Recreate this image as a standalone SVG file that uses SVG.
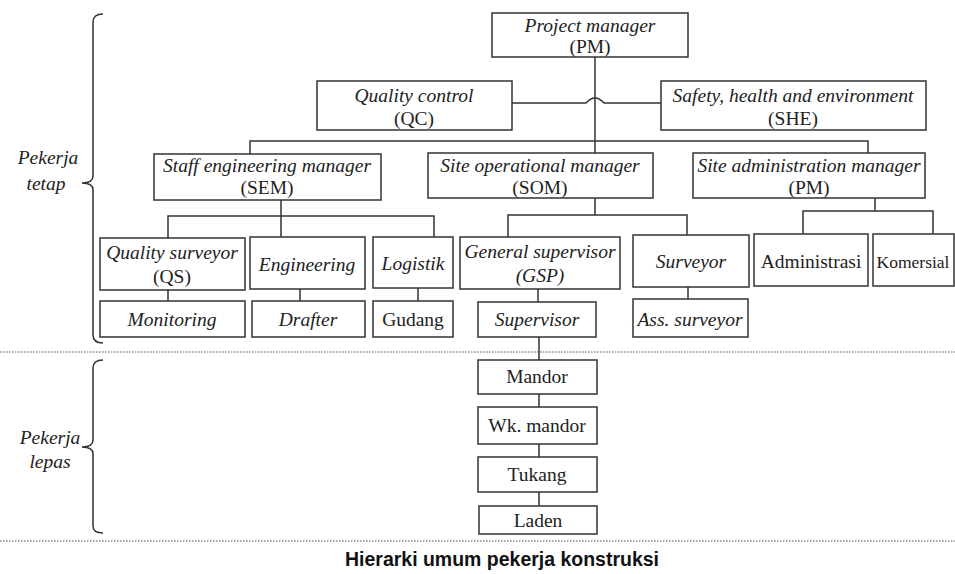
<svg xmlns="http://www.w3.org/2000/svg" width="955" height="574" viewBox="0 0 955 574">
<style>
.b{fill:#fff;stroke:#333;stroke-width:1.5}
.c{fill:none;stroke:#333;stroke-width:1.5}
.t{font-family:"Liberation Serif","Times New Roman",serif;font-size:19.5px;fill:#222;text-anchor:middle}
.i{font-style:italic}
.d{fill:none;stroke:#888;stroke-width:1.5;stroke-dasharray:1.5 1.5}
.cap{font-family:"Liberation Sans",Arial,sans-serif;font-size:20px;font-weight:bold;fill:#111;text-anchor:middle}
</style>
<rect width="955" height="574" fill="#fff"/>
<g id="connectors">
<path class="c" d="M595,57 V153"/>
<path class="c" d="M512,103 H586 Q595,93 604,103 H661"/>
<path class="c" d="M250,154 V141 H868 V153"/>
<path class="c" d="M281,200 V237 M168,238 V216 H434 V237"/>
<path class="c" d="M595,198 V215 M508,237 V215 H687 V235"/>
<path class="c" d="M875,198 V211 M803,234 V211 H933 V234"/>
<path class="c" d="M168,290 V301 M300,289 V301 M418,288 V301 M538,289 V302 M688,287 V299"/>
<path class="c" d="M539,337 V360 M539,394 V407 M539,444 V457 M539,492 V506"/>
</g>
<g id="braces">
<path class="c" d="M103,14 Q93,14 93,22 V176 Q93,183 82,183 Q93,183 93,190 V335 Q93,343 103,343"/>
<path class="c" d="M103,360 Q93,360 93,368 V440 Q93,447 82,447 Q93,447 93,454 V526 Q93,533 103,533"/>
<text class="t i" x="48" y="164">Pekerja</text>
<text class="t i" x="46" y="190">tetap</text>
<text class="t i" x="50" y="444">Pekerja</text>
<text class="t i" x="50" y="468">lepas</text>
</g>
<line class="d" x1="0" y1="352" x2="955" y2="352"/>
<line class="d" x1="0" y1="541" x2="955" y2="541"/>
<g id="pm"><rect class="b" x="492" y="13" width="196" height="44"/><text class="t i" x="590" y="32">Project manager</text><text class="t" x="590" y="53">(PM)</text></g>
<g id="qc"><rect class="b" x="317" y="81" width="195" height="49"/><text class="t i" x="414" y="102">Quality control</text><text class="t" x="414" y="125">(QC)</text></g>
<g id="she"><rect class="b" x="661" y="81" width="265" height="49"/><text class="t i" x="793" y="102">Safety, health and environment</text><text class="t" x="793" y="125">(SHE)</text></g>
<g id="sem"><rect class="b" x="154" y="154" width="227" height="46"/><text class="t i" x="267" y="172">Staff engineering manager</text><text class="t" x="267" y="194">(SEM)</text></g>
<g id="som"><rect class="b" x="428" y="153" width="225" height="45"/><text class="t i" x="540" y="172">Site operational manager</text><text class="t" x="540" y="194">(SOM)</text></g>
<g id="sam"><rect class="b" x="693" y="153" width="232" height="45"/><text class="t i" x="809" y="172">Site administration manager</text><text class="t" x="809" y="194">(PM)</text></g>
<g id="qs"><rect class="b" x="100" y="238" width="145" height="52"/><text class="t i" x="172" y="259">Quality surveyor</text><text class="t" x="172" y="283">(QS)</text></g>
<g id="engineering"><rect class="b" x="250" y="237" width="115" height="52"/><text class="t i" x="307" y="271">Engineering</text></g>
<g id="logistik"><rect class="b" x="373" y="237" width="80" height="51"/><text class="t i" x="413" y="270">Logistik</text></g>
<g id="gsp"><rect class="b" x="460" y="237" width="160" height="52"/><text class="t i" x="540" y="258">General supervisor</text><text class="t i" x="540" y="282">(GSP)</text></g>
<g id="surveyor"><rect class="b" x="633" y="235" width="116" height="52"/><text class="t i" x="691" y="268">Surveyor</text></g>
<g id="administrasi"><rect class="b" x="754" y="234" width="114" height="52"/><text class="t" x="811" y="268">Administrasi</text></g>
<g id="komersial"><rect class="b" x="873" y="234" width="81" height="52"/><text class="t" x="913" y="268" style="font-size:17.5px">Komersial</text></g>
<g id="monitoring"><rect class="b" x="100" y="301" width="145" height="36"/><text class="t i" x="172" y="326">Monitoring</text></g>
<g id="drafter"><rect class="b" x="252" y="301" width="113" height="36"/><text class="t i" x="308" y="326">Drafter</text></g>
<g id="gudang"><rect class="b" x="373" y="301" width="80" height="36"/><text class="t" x="413" y="326">Gudang</text></g>
<g id="supervisor"><rect class="b" x="478" y="302" width="118" height="35"/><text class="t i" x="537" y="326">Supervisor</text></g>
<g id="ass-surveyor"><rect class="b" x="633" y="299" width="115" height="38"/><text class="t i" x="690" y="326">Ass. surveyor</text></g>
<g id="mandor"><rect class="b" x="478" y="360" width="119" height="34"/><text class="t" x="537" y="383">Mandor</text></g>
<g id="wk-mandor"><rect class="b" x="478" y="407" width="119" height="37"/><text class="t" x="537" y="432">Wk. mandor</text></g>
<g id="tukang"><rect class="b" x="478" y="457" width="119" height="35"/><text class="t" x="537" y="481">Tukang</text></g>
<g id="laden"><rect class="b" x="479" y="506" width="118" height="28"/><text class="t" x="538" y="527">Laden</text></g>
<text class="cap" x="502" y="566" textLength="314" lengthAdjust="spacingAndGlyphs">Hierarki umum pekerja konstruksi</text>
</svg>
